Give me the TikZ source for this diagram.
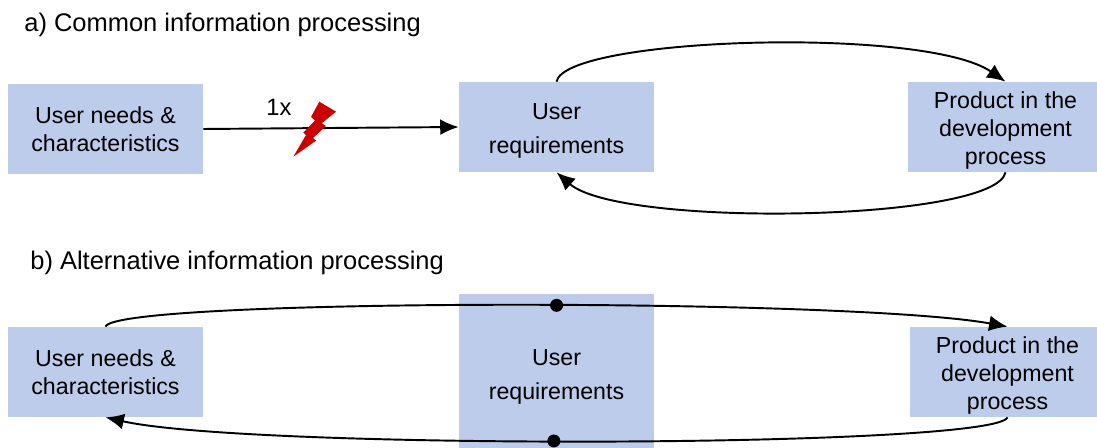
\documentclass[tikz,border=0pt]{standalone}
\usepackage{fontspec}
\setmainfont{Liberation Sans}
\definecolor{boxblue}{RGB}{189,204,234}
\definecolor{boltred}{RGB}{204,0,0}
\newcommand{\topgap}[1]{\rule{0pt}{#1pt}}
\tikzset{
  box/.style={fill=boxblue,minimum width=3.9cm,minimum height=1.8cm,inner sep=0pt,align=center,
    font=\fontsize{13.2}{15.9}\selectfont},
  title/.style={anchor=base west,inner sep=0pt,font=\fontsize{14.5}{17}\selectfont},
  flow/.style={-{Latex[length=10.5pt,width=9pt]},line width=1.1pt},
  dotmark/.style={circle,fill=black,minimum size=7.4pt,inner sep=0pt}
}
\usetikzlibrary{arrows.meta}
\begin{document}
\begin{tikzpicture}[x=0.02cm,y=-0.02cm]
\useasboundingbox (0,0) rectangle (1097,448);
\node [title] (ta) at (24,32) {a) Common information processing};
\node [title] (tb) at (30,270) {b) Alternative information processing};
% first row
\node [box] (needsa) at (105.5,129) {User needs \&\\characteristics};
\node [box] (reqa) at (556.5,127) {\topgap{13.5}User\\[3.4pt]requirements};
\node [box] (proda) at (1005.5,127) {\topgap{14}Product in the\\development\\process};
% second row
\node [box] (needsb) at (105.5,372) {User needs \&\\characteristics};
\node [box,minimum height=3.08cm] (reqb) at (556.5,371) {\topgap{16.2}User\\[3.4pt]requirements};
\node [box] (prodb) at (1007.5,372) {\topgap{14}Product in the\\development\\process};
% connectors
\draw [flow] (needsa.east) -- (reqa.west);
\node [inner sep=0pt,font=\fontsize{13.5}{16}\selectfont] (once) at (279,107) {1x};
\fill [boltred] (319.3,101.7) -- (336,111.7) -- (321.7,123.3) -- (326,126) -- (313,138) -- (316,140.7)
  -- (293.3,156.7) -- (306,135) -- (303.3,132.7) -- (315,120.5) -- (311,117) -- cycle;
\draw [flow] (reqa.north) .. controls (565,37) and (925,26) .. (proda.north);
\draw [flow] (proda.south) .. controls (995,222) and (620,228) .. (reqa.south);
\draw [flow] (needsb.north) .. controls (115,298) and (850,298) .. node [dotmark,pos=.545] (dotb) {} (prodb.north);
\draw [flow] (prodb.south) .. controls (995,448) and (250,450) .. node [dotmark,pos=.542] (dotc) {} (needsb.south);
\end{tikzpicture}
\end{document}
